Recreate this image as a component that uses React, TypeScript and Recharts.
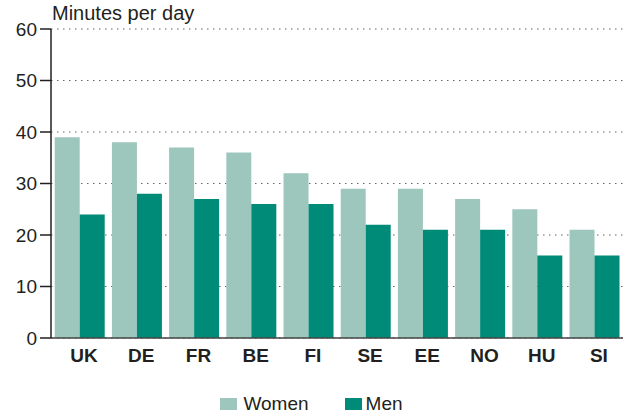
import React from "react";
import {
  BarChart,
  Bar,
  XAxis,
  YAxis,
  CartesianGrid,
  Legend,
} from "recharts";

const countries = ["UK", "DE", "FR", "BE", "FI", "SE", "EE", "NO", "HU", "SI"];
const women = [39, 38, 37, 36, 32, 29, 29, 27, 25, 21];
const men = [24, 28, 27, 26, 26, 22, 21, 21, 16, 16];
const yTicks = [0, 10, 20, 30, 40, 50, 60];
const seriesNames = ["Women", "Men"];

const WOMEN_COLOR = "#9dc6bd";
const MEN_COLOR = "#008a78";
const INK = "#231f20";
const seriesColors = [WOMEN_COLOR, MEN_COLOR];

const data = countries.map((c, i) => ({ country: c, Women: women[i], Men: men[i] }));

// fixed order legend with flat rectangular swatches
function LegendBox() {
  return (
    <div
      style={{
        height: 24,
        boxSizing: "border-box",
        paddingTop: 6,
        display: "flex",
        justifyContent: "center",
        alignItems: "center",
        fontSize: 19,
        color: INK,
      }}
    >
      {seriesNames.map((name, i) => (
        <div
          key={name}
          style={{ display: "flex", alignItems: "center", marginRight: i === 0 ? 36 : 0 }}
        >
          <span
            style={{
              display: "inline-block",
              width: 17,
              height: 12,
              background: seriesColors[i],
              marginRight: i === 0 ? 6 : 4,
            }}
          />
          <span>{name}</span>
        </div>
      ))}
    </div>
  );
}

export default function App() {
  return (
    <div
      style={{
        position: "absolute",
        left: 0,
        top: 0,
        width: 625,
        height: 413,
        background: "#fff",
        fontFamily: "'Liberation Sans', Arial, sans-serif",
      }}
    >
      <div
        style={{
          position: "absolute",
          left: 52,
          top: 3,
          fontSize: 20,
          color: INK,
          lineHeight: "20px",
        }}
      >
        Minutes per day
      </div>
      <BarChart
        width={625}
        height={413}
        data={data}
        margin={{ top: 29, right: 2, left: 0, bottom: 0 }}
        barCategoryGap="6.5%"
        barGap={0}
      >
        <CartesianGrid
          horizontal
          vertical={false}
          stroke="#666"
          strokeDasharray="1.5 4.5"
        />
        <XAxis
          dataKey="country"
          height={51}
          tickLine={false}
          tickSize={8}
          tickMargin={3}
          axisLine={{ stroke: "#444", strokeWidth: 1.5 }}
          tick={{ fontSize: 19, fontWeight: "bold", fill: INK, dx: 4.5 }}
          interval={0}
        />
        <YAxis
          domain={[0, 60]}
          ticks={yTicks}
          width={51}
          tickSize={11}
          tickMargin={3}
          axisLine={{ stroke: INK, strokeWidth: 1.5 }}
          tickLine={{ stroke: INK, strokeWidth: 1.5 }}
          tick={{ fontSize: 19, fill: INK }}
        />
        <YAxis
          yAxisId="right"
          orientation="right"
          width={0}
          tick={false}
          tickLine={false}
          axisLine={{ stroke: "#999", strokeWidth: 2 }}
        />
        <Legend verticalAlign="bottom" content={<LegendBox />} />
        <Bar dataKey="Women" fill={WOMEN_COLOR} isAnimationActive={false} />
        <Bar dataKey="Men" fill={MEN_COLOR} isAnimationActive={false} />
      </BarChart>
    </div>
  );
}
